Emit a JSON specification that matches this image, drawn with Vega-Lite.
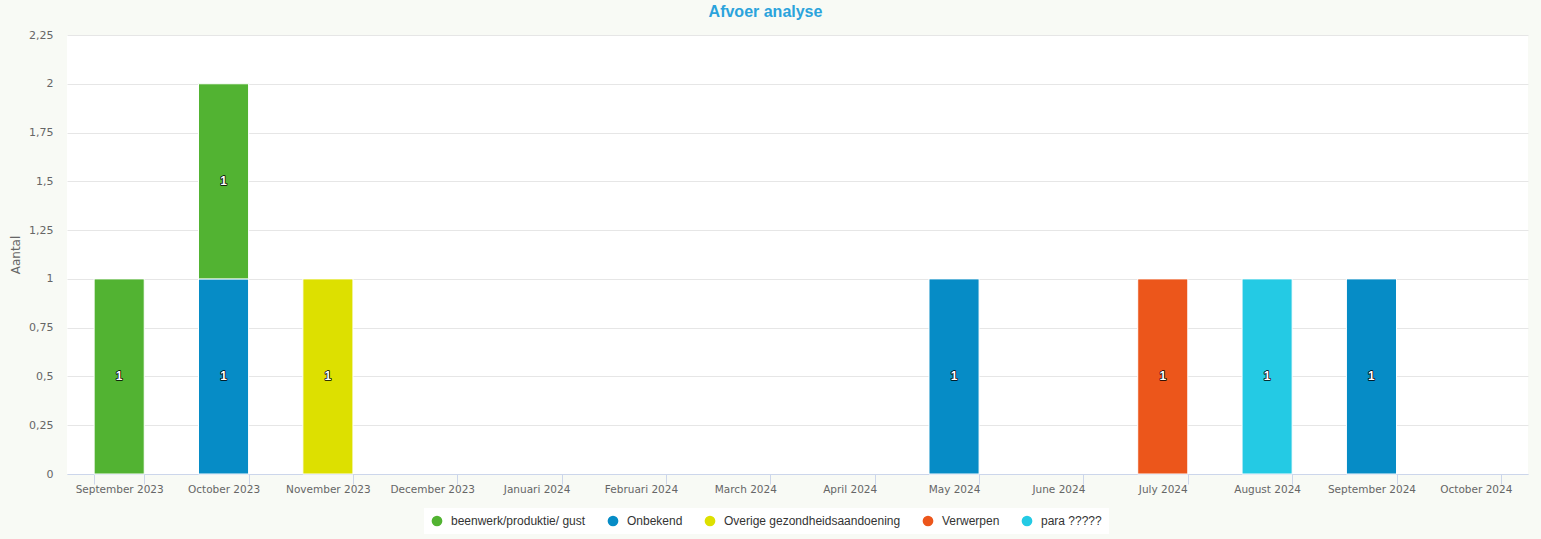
{
  "$schema": "https://vega.github.io/schema/vega-lite/v6.json",
  "width": 1461,
  "height": 439,
  "autosize": {"type": "none"},
  "padding": {"left": 67, "top": 35, "right": 13, "bottom": 65},
  "background": "#f8faf5",
  "title": {"text": "Afvoer analyse", "font": "Liberation Sans", "fontSize": 16, "fontWeight": "bold", "color": "#2ba3dc", "anchor": "middle", "dx": -32, "offset": 9},
  "config": {"view": {"fill": "white", "stroke": null}},
  "data": {"values": [
    {"month": "September 2023", "series": "beenwerk/produktie/ gust", "count": 1},
    {"month": "October 2023", "series": "Onbekend", "count": 1},
    {"month": "October 2023", "series": "beenwerk/produktie/ gust", "count": 1},
    {"month": "November 2023", "series": "Overige gezondheidsaandoening", "count": 1},
    {"month": "May 2024", "series": "Onbekend", "count": 1},
    {"month": "July 2024", "series": "Verwerpen", "count": 1},
    {"month": "August 2024", "series": "para ?????", "count": 1},
    {"month": "September 2024", "series": "Onbekend", "count": 1}
  ]},
  "transform": [
    {"stack": "count", "groupby": ["month"], "sort": [{"field": "series", "order": "ascending"}], "as": ["y0", "y1"]},
    {"calculate": "(datum.y0 + datum.y1) / 2", "as": "mid"}
  ],
  "encoding": {
    "x": {
      "field": "month", "type": "nominal", "title": null,
      "scale": {
        "domain": ["September 2023", "October 2023", "November 2023", "December 2023", "Januari 2024", "Februari 2024", "March 2024", "April 2024", "May 2024", "June 2024", "July 2024", "August 2024", "September 2024", "October 2024"],
        "paddingInner": 0.52, "paddingOuter": 0.26
      },
      "axis": {
        "labelAngle": 0, "domainColor": "#ccd6eb", "tickColor": "#ccd6eb", "tickSize": 10, "tickWidth": 1, "tickBand": "extent",
        "labelColor": "#666666", "labelFont": "DejaVu Sans", "labelFontSize": 10.5, "labelPadding": 0, "grid": false
      }
    }
  },
  "layer": [
    {
      "mark": {"type": "bar", "stroke": "white", "strokeWidth": 1},
      "encoding": {
        "y": {
          "field": "y1", "type": "quantitative", "title": "Aantal",
          "scale": {"domain": [0, 2.25], "nice": false},
          "axis": {
            "values": [0, 0.25, 0.5, 0.75, 1, 1.25, 1.5, 1.75, 2, 2.25],
            "labelExpr": "replace(format(datum.value, '~f'), '.', ',')",
            "domain": false, "ticks": false, "gridColor": "#e6e6e6",
            "labelColor": "#666666", "labelFont": "DejaVu Sans", "labelFontSize": 11, "labelPadding": 14,
            "titleColor": "#666666", "titleFont": "DejaVu Sans", "titleFontSize": 12, "titleFontWeight": "normal", "titlePadding": 6
          }
        },
        "y2": {"field": "y0"},
        "color": {
          "field": "series", "type": "nominal",
          "scale": {
            "domain": ["beenwerk/produktie/ gust", "Onbekend", "Overige gezondheidsaandoening", "Verwerpen", "para ?????"],
            "range": ["#52b332", "#068cc6", "#dde000", "#ec561b", "#24cae4"]
          },
          "legend": {
            "title": null, "orient": "none", "legendX": 357, "legendY": 473, "direction": "horizontal",
            "fillColor": "white", "padding": 7, "symbolType": "circle", "symbolSize": 115, "symbolStrokeWidth": 0,
            "labelFont": "Liberation Sans", "labelFontSize": 12, "labelColor": "#333333", "labelLimit": 400, "columnPadding": 21, "labelOffset": 8
          }
        }
      }
    },
    {
      "mark": {"type": "text", "font": "Liberation Sans", "fontWeight": "bold", "fontSize": 12, "fill": "#000000", "stroke": "#000000", "strokeWidth": 1.5, "strokeJoin": "round"},
      "encoding": {
        "y": {"field": "mid", "type": "quantitative"},
        "text": {"field": "count", "type": "quantitative"}
      }
    },
    {
      "mark": {"type": "text", "font": "Liberation Sans", "fontWeight": "bold", "fontSize": 12, "fill": "#ffffff"},
      "encoding": {
        "y": {"field": "mid", "type": "quantitative"},
        "text": {"field": "count", "type": "quantitative"}
      }
    }
  ]
}
